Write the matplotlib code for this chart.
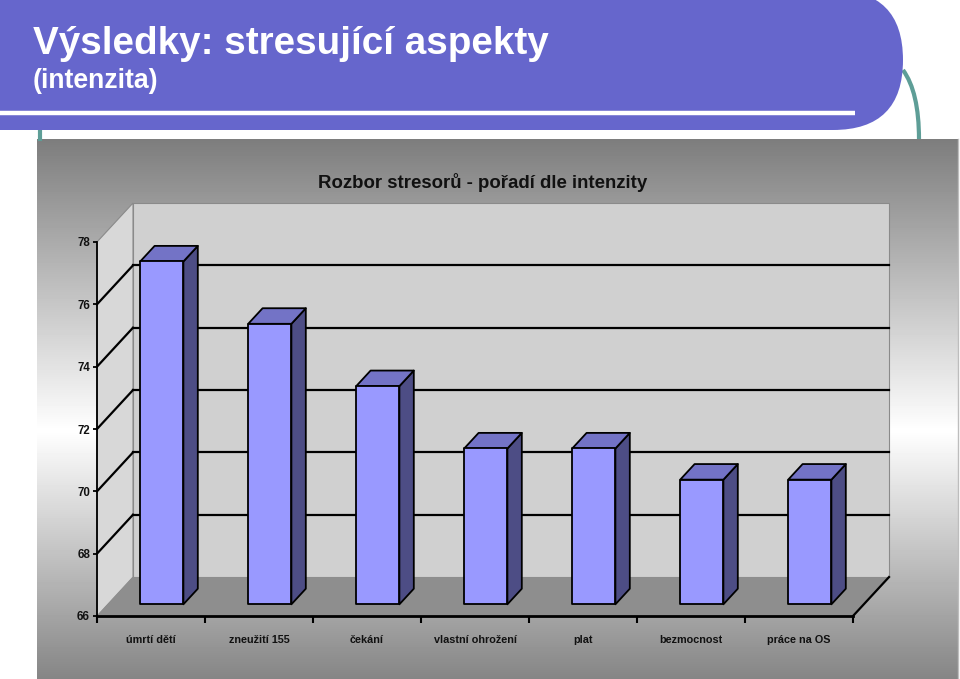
import numpy as np
import matplotlib
matplotlib.use("Agg")
import matplotlib.pyplot as plt
from matplotlib.patches import Polygon, FancyBboxPatch, PathPatch
from matplotlib.path import Path

# data
categories = ["úmrtí dětí", "zneužití 155", "čekání", "vlastní ohrožení",
              "plat", "bezmocnost", "práce na OS"]
values = [77, 75, 73, 71, 71, 70, 70]
y_ticks = [66, 68, 70, 72, 74, 76, 78]

SANS = ["Liberation Sans", "DejaVu Sans"]

W, H = 960, 679
fig = plt.figure(figsize=(W / 100, H / 100), dpi=100)
fig.patch.set_facecolor("white")

# ---- slide background (pixel coords) ----
bg = fig.add_axes([0, 0, 1, 1])
bg.set_xlim(0, W)
bg.set_ylim(H, 0)
bg.axis("off")

# chart area gradient (gray -> white -> gray)
rows = np.arange(139, H)
grey = np.interp(rows, [139, 430, H], [0.49, 1.0, 0.52])
grad = np.repeat(grey[:, None], 2, axis=1)
bg.imshow(grad, extent=(37, 958, H, 139), cmap="gray", vmin=0, vmax=1,
          aspect="auto", zorder=1)
bg.plot([958, 958], [139, H], color="#bdbdbd", lw=1, zorder=2)

# header shape
header = FancyBboxPatch((-100, -10), 1003, 140,
                        boxstyle="round,pad=0,rounding_size=70",
                        fc="#6666CC", ec="none", zorder=3)
bg.add_patch(header)
bg.plot([0, 855], [113, 113], color="white", lw=3.2, zorder=4,
        solid_capstyle="butt")

# teal decorative lines
bg.plot([40, 40], [128, 139], color="#5E9E97", lw=3, zorder=2)
arc = Path([(903, 70), (919, 92), (919, 139)],
           [Path.MOVETO, Path.CURVE3, Path.CURVE3])
bg.add_patch(PathPatch(arc, fc="none", ec="#5E9E97", lw=3, zorder=2))

bg.text(33, 44, "Výsledky: stresující aspekty", color="white",
        fontsize=27.8, fontweight="bold", family=SANS, va="center",
        ha="left", zorder=5)
bg.text(33, 81, "(intenzita)", color="white", fontsize=19.2,
        fontweight="bold", family=SANS, va="center", ha="left", zorder=5)

bg.text(483, 182, "Rozbor stresorů - pořadí dle intenzity", color="#111111",
        fontsize=13.4, fontweight="bold", family=SANS, va="center",
        ha="center", zorder=5)

# ---- 3D bar chart ----
ax = fig.add_axes([97 / W, 63 / H, 756 / W, 374 / H])
ax.set_xlim(0, len(categories))
ax.set_ylim(66, 78)
ax.patch.set_alpha(0)

DX, DY = 1 / 3, 1.25          # depth vector in data units
n = len(categories)
ymin, ymax = 66, 78

# walls
back = Polygon([(DX, ymin + DY), (n + DX, ymin + DY), (n + DX, ymax + DY),
                (DX, ymax + DY)], closed=True, fc="#d0d0d0", ec="#8a8a8a",
               lw=0.8, clip_on=False, zorder=1)
side = Polygon([(0, ymin), (DX, ymin + DY), (DX, ymax + DY), (0, ymax)],
               closed=True, fc="#d8d8d8", ec="#8a8a8a", lw=0.8,
               clip_on=False, zorder=1)
floor = Polygon([(0, ymin), (n, ymin), (n + DX, ymin + DY), (DX, ymin + DY)],
                closed=True, fc="#8e8e8e", ec="none", clip_on=False, zorder=1)
for p in (back, side, floor):
    ax.add_patch(p)

for t in y_ticks[1:-1]:
    ax.plot([DX, n + DX], [t + DY, t + DY], color="black", lw=1.6,
            clip_on=False, zorder=2)
    ax.plot([0, DX], [t, t + DY], color="black", lw=1.6, clip_on=False,
            zorder=2)
ax.plot([n, n + DX], [ymin, ymin + DY], color="black", lw=1.6,
        clip_on=False, zorder=2)

# bars
f0, db, bw = 0.3, 0.4, 0.4
ddx, ddy = db * DX, db * DY
for i, v in enumerate(values):
    x0 = i + 0.5 - bw / 2 + f0 * DX
    x1 = x0 + bw
    y0 = ymin + f0 * DY
    y1 = v + f0 * DY
    kw = dict(closed=True, ec="black", lw=1.3, joinstyle="round",
              clip_on=False, zorder=3)
    ax.add_patch(Polygon([(x1, y0), (x1 + ddx, y0 + ddy), (x1 + ddx, y1 + ddy),
                          (x1, y1)], fc="#4D4D85", **kw))
    ax.add_patch(Polygon([(x0, y1), (x1, y1), (x1 + ddx, y1 + ddy),
                          (x0 + ddx, y1 + ddy)], fc="#7373C6", **kw))
    ax.add_patch(Polygon([(x0, y0), (x1, y0), (x1, y1), (x0, y1)],
                         fc="#9999FF", **kw))

# axes styling
for s in ("top", "right"):
    ax.spines[s].set_visible(False)
ax.spines["left"].set_linewidth(1.3)
ax.spines["bottom"].set_linewidth(2)
ax.spines["left"].set_zorder(4)
ax.spines["bottom"].set_zorder(4)

ax.set_yticks(y_ticks)
ax.set_yticklabels([str(t) for t in y_ticks], family=SANS,
                   fontweight="bold", fontsize=8.3, color="#111111")
ax.tick_params(axis="y", direction="out", length=3, width=1.3, pad=2)

ax.set_xticks(np.arange(n + 1))
ax.set_xticklabels([])
ax.tick_params(axis="x", which="major", direction="out", length=5, width=1.5)
ax.set_xticks(np.arange(n) + 0.5, minor=True)
ax.set_xticklabels(categories, minor=True, family=SANS, fontweight="bold",
                   fontsize=7.8, color="#111111")
ax.tick_params(axis="x", which="minor", length=0, pad=14)

fig.savefig("out.png", dpi=100)
